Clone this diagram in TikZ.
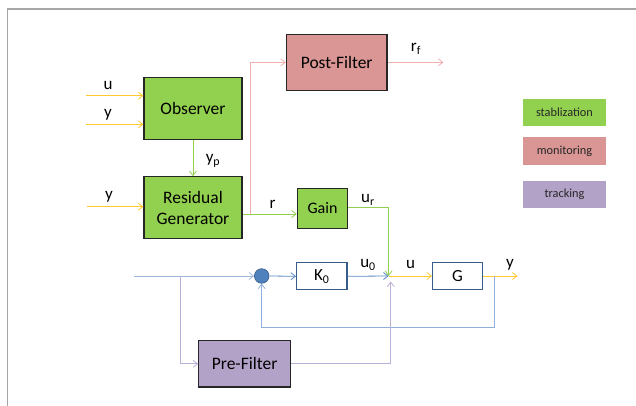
\documentclass[tikz,border=0pt]{standalone}
\usepackage{fontspec}
\setmainfont{Carlito}
\usetikzlibrary{arrows.meta}
\definecolor{gfill}{HTML}{92D050}
\definecolor{pfill}{HTML}{D99694}
\definecolor{vfill}{HTML}{B3A2C7}
\definecolor{bdark}{HTML}{262626}
\definecolor{bblue}{HTML}{385D8A}
\definecolor{cblue}{HTML}{4F81BD}
\definecolor{lyel}{HTML}{FFC930}
\definecolor{lgreen}{HTML}{92D050}
\definecolor{lpink}{HTML}{F0B0B0}
\definecolor{lblue}{HTML}{5B87C2}
\definecolor{lblue2}{HTML}{8FB0DC}
\definecolor{lviolet}{HTML}{BDB0D8}
\definecolor{frame}{HTML}{A6A6A6}
\tikzset{
  blk/.style={draw=bdark,line width=1.1pt,rectangle,inner sep=0pt,font=\fontsize{17.5}{21}\selectfont,text=black,align=center},
  wblk/.style={draw=bblue,line width=1.1pt,fill=white,rectangle,inner sep=0pt,font=\fontsize{17}{20}\selectfont},
  leg/.style={rectangle,inner sep=0pt,minimum width=82.4pt,minimum height=27.4pt,font=\fontsize{12.3}{14}\selectfont,text=black!85},
  lab/.style={font=\fontsize{17}{20}\selectfont,inner sep=0pt},
  conn/.style={line width=0.8pt,-{Straight Barb[length=4.5pt,width=7pt]}},
  wire/.style={line width=0.8pt}
}
\begin{document}
\begin{tikzpicture}[x=1pt,y=-1pt]
\useasboundingbox (0,0) rectangle (636,406);
\draw[frame,line width=1.6pt] (7.3,406) -- (7.3,9.3) -- (636,9.3);

% blocks
\node[blk,fill=gfill,minimum width=98pt,minimum height=61.6pt] (obs) at (193,108.5) {Observer};
\node[blk,fill=gfill,minimum width=98pt,minimum height=61.6pt] (res) at (193,207.5) {Residual\\Generator};
\node[blk,fill=pfill,minimum width=100.6pt,minimum height=56pt] (post) at (336.7,62.3) {Post-Filter};
\node[blk,fill=gfill,minimum width=50.3pt,minimum height=39.7pt,font=\fontsize{16}{19}\selectfont] (gain) at (322.5,208.2) {Gain};
\node[wblk,minimum width=50.4pt,minimum height=27pt] (k0) at (321.8,276.3) {K\textsubscript{0}};
\node[wblk,minimum width=50pt,minimum height=26.6pt] (g) at (457.5,276) {G};
\node[blk,fill=vfill,minimum width=91.7pt,minimum height=46.3pt] (pre) at (244.6,363.8) {Pre-Filter};
\node[circle,fill=cblue,draw=bblue,line width=0.6pt,minimum size=14.6pt,inner sep=0pt] (sum) at (261.7,276) {};

% legend
\node[leg,fill=gfill] (l1) at (564.5,112.3) {stablization};
\node[leg,fill=pfill] (l2) at (564.5,151) {monitoring};
\node[leg,fill=vfill] (l3) at (564.5,194.5) {tracking};

% coordinates
\coordinate (uin) at (86,95.7);
\coordinate (yin) at (86,124.3);
\coordinate (yin2) at (87,206.7);
\coordinate (br) at (250.7,214);
\coordinate (rfout) at (443.4,62.3);
\coordinate (junc) at (388.6,276);
\coordinate (juncb) at (390.7,281.5);
\coordinate (start) at (134,276);
\coordinate (bp) at (180.5,276);
\coordinate (yout) at (517.6,276);
\coordinate (fb) at (494,276);

% inputs
\draw[conn,lyel] (uin) -- (uin -| obs.west);
\draw[conn,lyel] (yin) -- (yin -| obs.west);
\draw[conn,lyel] (yin2) -- (yin2 -| res.west);
\node[lab] (lu) at (108,86) {u};
\node[lab] (ly1) at (108,115) {y};
\node[lab] (ly2) at (109,197) {y};

% observer -> residual
\draw[conn,lgreen] (obs.south) -- (res.north);
\node[lab] (lyp) at (213,161) {y\textsubscript{p}};

% residual -> gain and post-filter
\draw[conn,lgreen] (res.east |- br) -- (br -| gain.west);
\draw[conn,lpink] (br) |- (post.west);
\node[lab] (lr) at (272.6,204) {r};
\draw[conn,lpink] (post.east) -- (rfout);
\node[lab] (lrf) at (416,49) {r\textsubscript{f}};

% gain -> junction
\draw[conn,lgreen] (gain.east |- 0,207.3) -| (junc);
\node[lab] (lur) at (368,200) {u\textsubscript{r}};

% main loop
\draw[conn,lblue!60] (start) -- (sum.west);
\draw[conn,lblue] (sum.east) -- (k0.west);
\draw[conn,lblue] (k0.east) -- (junc);
\node[lab] (lu0) at (368,265) {u\textsubscript{0}};
\draw[conn,lyel] (junc) -- (g.west);
\node[lab] (lu2) at (410.5,264.5) {u};
\draw[conn,lyel] (g.east) -- (yout);
\node[lab] (ly3) at (510,264.5) {y};
\draw[conn,lblue2] (fb) -- (fb |- 0,327) -| (sum.south);

% pre-filter
\draw[conn,lviolet] (bp) |- (pre.west);
\draw[conn,lviolet] (pre.east) -| (juncb);
\end{tikzpicture}
\end{document}
